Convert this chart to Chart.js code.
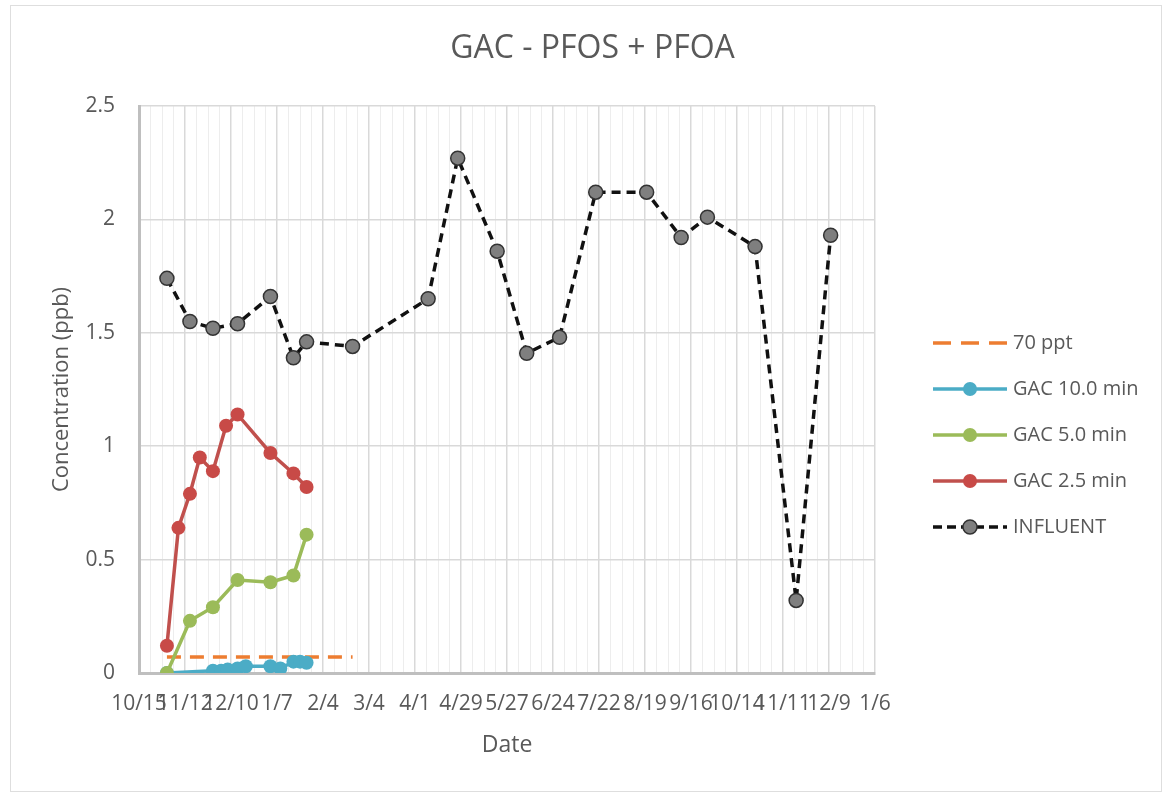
<!DOCTYPE html>
<html>
<head>
<meta charset="utf-8">
<title>GAC - PFOS + PFOA</title>
<script src="https://cdn.jsdelivr.net/npm/chart.js@4.4.1/dist/chart.umd.min.js"></script>
<style>
  html, body { margin: 0; padding: 0; background: #ffffff; }
  #frame {
    position: absolute; left: 10px; top: 5px;
    width: 1150px; height: 785px;
    border: 1px solid #dedede;
  }
  #chart { position: absolute; left: 0; top: 0; }
</style>
</head>
<body>
<div id="frame"></div>
<canvas id="chart" width="1163" height="793"></canvas>
<script>
// axis start date and tick labels (every 28 days)
const startDate = "2018-10-15";
const xTickLabels = ["10/15", "11/12", "12/10", "1/7", "2/4", "3/4", "4/1", "4/29", "5/27",
  "6/24", "7/22", "8/19", "9/16", "10/14", "11/11", "12/9", "1/6"];
const yTicks = [0, 0.5, 1, 1.5, 2, 2.5];

// 70 ppt reference line
const pptDates = ["2018-11-01", "2019-02-22"];
const pptValues = [0.07, 0.07];

// GAC 10.0 min
const gac10Dates = ["2018-11-01", "2018-11-29", "2018-12-04", "2018-12-08", "2018-12-14", "2018-12-19",
  "2019-01-03", "2019-01-09", "2019-01-17", "2019-01-21", "2019-01-25"];
const gac10Values = [0.00, 0.01, 0.01, 0.015, 0.02, 0.03, 0.03, 0.02, 0.05, 0.05, 0.045];

// GAC 5.0 min
const gac5Dates = ["2018-11-01", "2018-11-15", "2018-11-29", "2018-12-14", "2019-01-03", "2019-01-17", "2019-01-25"];
const gac5Values = [0.00, 0.23, 0.29, 0.41, 0.40, 0.43, 0.61];

// GAC 2.5 min
const gac25Dates = ["2018-11-01", "2018-11-08", "2018-11-15", "2018-11-21", "2018-11-29", "2018-12-07",
  "2018-12-14", "2019-01-03", "2019-01-17", "2019-01-25"];
const gac25Values = [0.12, 0.64, 0.79, 0.95, 0.89, 1.09, 1.14, 0.97, 0.88, 0.82];

// INFLUENT
const influentDates = ["2018-11-01", "2018-11-15", "2018-11-29", "2018-12-14", "2019-01-03", "2019-01-17",
  "2019-01-25", "2019-02-22", "2019-04-09", "2019-04-27", "2019-05-21", "2019-06-08", "2019-06-28",
  "2019-07-20", "2019-08-20", "2019-09-10", "2019-09-26", "2019-10-25", "2019-11-19", "2019-12-10"];
const influentValues = [1.74, 1.55, 1.52, 1.54, 1.66, 1.39, 1.46, 1.44, 1.65, 2.27, 1.86, 1.41, 1.48,
  2.12, 2.12, 1.92, 2.01, 1.88, 0.32, 1.93];

const chartTitle = "GAC - PFOS + PFOA";

const DAY = 86400000;
const t0 = Date.parse(startDate);
const toPoints = (dates, values) => dates.map((d, i) => ({ x: (Date.parse(d) - t0) / DAY, y: values[i] }));

const textColor = "#595959";
const fontFamily = "'Open Sans', sans-serif";

// title centred on the whole chart + legend drawn like the Excel one
const excelLegend = {
  id: "excelLegend",
  afterDraw(chart) {
    const ctx = chart.ctx;
    ctx.save();
    ctx.fillStyle = textColor;
    ctx.font = "32px " + fontFamily;
    ctx.textAlign = "center";
    ctx.textBaseline = "middle";
    ctx.fillText(chartTitle, chart.width / 2 + 11, 49);

    const x0 = 933, x1 = 1007, tx = 1013;
    let y = 343;
    ctx.textAlign = "left";
    chart.data.datasets.forEach((ds) => {
      ctx.beginPath();
      ctx.setLineDash(ds.legendDash || []);
      ctx.strokeStyle = ds.borderColor;
      ctx.lineWidth = ds.borderWidth;
      ctx.moveTo(x0, y);
      ctx.lineTo(x1, y);
      ctx.stroke();
      ctx.setLineDash([]);
      if (ds.pointRadius > 0) {
        ctx.beginPath();
        ctx.arc((x0 + x1) / 2, y, ds.pointRadius, 0, Math.PI * 2);
        ctx.fillStyle = ds.pointBackgroundColor;
        ctx.fill();
        if (ds.pointBorderWidth) {
          ctx.lineWidth = ds.pointBorderWidth;
          ctx.strokeStyle = ds.pointBorderColor;
          ctx.stroke();
        }
      }
      ctx.fillStyle = textColor;
      ctx.font = "20px " + fontFamily;
      ctx.textBaseline = "middle";
      ctx.fillText(ds.label, tx, y);
      y += 46;
    });
    ctx.restore();
  }
};

new Chart(document.getElementById("chart").getContext("2d"), {
  type: "line",
  data: {
    datasets: [
      {
        label: "70 ppt",
        data: toPoints(pptDates, pptValues),
        borderColor: "#ED7D31",
        borderWidth: 3.5,
        borderDash: [14, 9],
        legendDash: [18, 10],
        pointRadius: 0,
        order: 5,
      },
      {
        label: "GAC 10.0 min",
        data: toPoints(gac10Dates, gac10Values),
        borderColor: "#4BACC6",
        borderWidth: 3.5,
        pointRadius: 7,
        pointBackgroundColor: "#4BACC6",
        pointBorderColor: "#4BACC6",
        pointBorderWidth: 0,
        order: 4,
      },
      {
        label: "GAC 5.0 min",
        data: toPoints(gac5Dates, gac5Values),
        borderColor: "#9BBB59",
        borderWidth: 3.5,
        pointRadius: 7,
        pointBackgroundColor: "#9BBB59",
        pointBorderColor: "#9BBB59",
        pointBorderWidth: 0,
        order: 3,
      },
      {
        label: "GAC 2.5 min",
        data: toPoints(gac25Dates, gac25Values),
        borderColor: "#C0504D",
        borderWidth: 3.5,
        pointRadius: 7,
        pointBackgroundColor: "#C84A47",
        pointBorderColor: "#C84A47",
        pointBorderWidth: 0,
        order: 2,
      },
      {
        label: "INFLUENT",
        data: toPoints(influentDates, influentValues),
        borderColor: "#111111",
        borderWidth: 3.5,
        borderDash: [9, 6],
        legendDash: [9, 5],
        pointRadius: 7,
        pointBackgroundColor: "#7F7F7F",
        pointBorderColor: "#333333",
        pointBorderWidth: 1.5,
        order: 1,
      },
    ],
  },
  options: {
    responsive: false,
    animation: false,
    layout: { padding: { left: 0, right: 288, top: 106, bottom: 0 } },
    plugins: {
      legend: { display: false },
      tooltip: { enabled: false },
      title: { display: false },
    },
    scales: {
      x: {
        type: "linear",
        min: 0,
        max: (xTickLabels.length - 1) * 28,
        afterFit(scale) {
          scale.height = 120;
          scale.paddingLeft = 0;
          scale.paddingRight = 0;
        },
        ticks: {
          stepSize: 7,
          autoSkip: false,
          maxRotation: 0,
          minRotation: 0,
          padding: 18,
          color: textColor,
          font: { family: fontFamily, size: 21 },
          callback: (v) => (v % 28 === 0 ? xTickLabels[v / 28] : ""),
        },
        grid: {
          drawTicks: false,
          color: (c) => (c.tick && c.tick.value % 28 === 0 ? "#d9d9d9" : "#ededed"),
          lineWidth: (c) => (c.tick && c.tick.value % 28 === 0 ? 1.5 : 1),
        },
        border: { color: "#bfbfbf", width: 3 },
        title: {
          display: true,
          text: "Date",
          color: textColor,
          font: { family: fontFamily, size: 23, lineHeight: 1.2 },
          padding: { top: 0, bottom: 34 },
        },
      },
      y: {
        min: yTicks[0],
        max: yTicks[yTicks.length - 1],
        afterFit(scale) {
          scale.width = 139;
        },
        ticks: {
          stepSize: 0.5,
          padding: 24,
          color: textColor,
          font: { family: fontFamily, size: 21 },
          callback: (v) => String(v),
        },
        grid: { drawTicks: false, color: "#d9d9d9", lineWidth: 1.5 },
        border: { color: "#bfbfbf", width: 3 },
        title: {
          display: true,
          text: "Concentration (ppb)",
          color: textColor,
          font: { family: fontFamily, size: 22, lineHeight: 1.2 },
          padding: { top: 49, bottom: 0 },
        },
      },
    },
  },
  plugins: [excelLegend],
});
</script>
</body>
</html>
